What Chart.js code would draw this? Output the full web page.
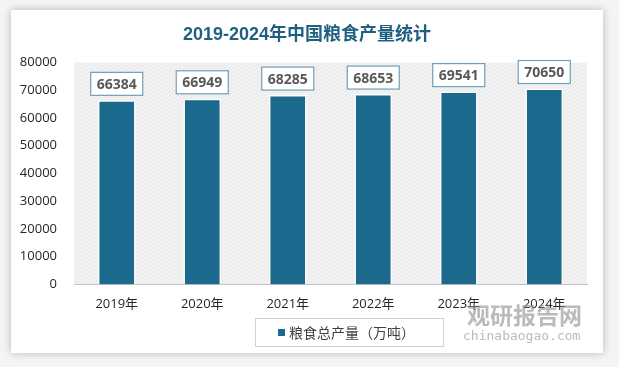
<!DOCTYPE html>
<html>
<head>
<meta charset="utf-8">
<script src="https://cdn.jsdelivr.net/npm/chart.js@4.4.0/dist/chart.umd.min.js"></script>
<style>
  html, body { margin: 0; padding: 0; background: #f4f4f4; }
  #card {
    position: absolute; left: 11px; top: 10px; width: 592px; height: 343px;
    background: #ffffff; box-shadow: 0 0 8px rgba(0,0,0,0.25);
  }
  canvas { display: block; }
</style>
</head>
<body>
<div id="card"><canvas id="grainChart" width="592" height="343"></canvas></div>
<script>
const years = ['2019年', '2020年', '2021年', '2022年', '2023年', '2024年'];
const grainOutput = [66384, 66949, 68285, 68653, 69541, 70650];
const yTicks = [0, 10000, 20000, 30000, 40000, 50000, 60000, 70000, 80000];

// hatched light-gray plot background
function makeHatch() {
  const c = document.createElement('canvas');
  c.width = 4; c.height = 4;
  const x = c.getContext('2d');
  x.fillStyle = '#f3f3f3';
  x.fillRect(0, 0, 4, 4);
  x.strokeStyle = '#e4e4e4';
  x.lineWidth = 1;
  x.beginPath();
  x.moveTo(0, 4); x.lineTo(4, 0);
  x.stroke();
  return c;
}

const plotBackground = {
  id: 'plotBackground',
  beforeDatasetsDraw(chart) {
    const { ctx, chartArea } = chart;
    ctx.save();
    ctx.fillStyle = ctx.createPattern(makeHatch(), 'repeat');
    ctx.fillRect(chartArea.left, chartArea.top, chartArea.right - chartArea.left, chartArea.bottom - chartArea.top);
    ctx.restore();
  }
};

// value boxes above each bar
const valueBoxes = {
  id: 'valueBoxes',
  afterDatasetsDraw(chart) {
    const { ctx } = chart;
    const meta = chart.getDatasetMeta(0);
    ctx.save();
    ctx.font = 'bold 14px "Open Sans", "Noto Sans", sans-serif';
    ctx.textAlign = 'center';
    ctx.textBaseline = 'middle';
    meta.data.forEach((bar, i) => {
      const text = String(grainOutput[i]);
      const w = ctx.measureText(text).width + 12;
      const h = 23;
      const cx = bar.x;
      const bottom = bar.y - 5;
      ctx.fillStyle = '#ffffff';
      ctx.fillRect(cx - w / 2, bottom - h, w, h);
      ctx.strokeStyle = '#6f9fb9';
      ctx.lineWidth = 1.2;
      ctx.strokeRect(cx - w / 2, bottom - h, w, h);
      ctx.fillStyle = '#595959';
      ctx.fillText(text, cx, bottom - h / 2 + 1);
    });
    ctx.restore();
  }
};

// framed legend under the axis + watermark text
const legendBox = {
  id: 'legendBox',
  afterDraw(chart) {
    const { ctx } = chart;
    const ds = chart.data.datasets[0];
    ctx.save();
    ctx.strokeStyle = '#d0d0d0';
    ctx.lineWidth = 1;
    ctx.strokeRect(244.5, 308.5, 188, 28);
    ctx.fillStyle = ds.backgroundColor;
    ctx.fillRect(267, 319, 7, 7);
    ctx.fillStyle = '#404040';
    ctx.font = '14px "Noto Sans CJK SC", sans-serif';
    ctx.textBaseline = 'middle';
    ctx.fillText(ds.label, 278, 323);

    ctx.fillStyle = 'rgba(140,140,140,0.6)';
    ctx.font = 'bold 23px "Noto Sans CJK SC", sans-serif';
    ctx.fillText('观研报告网', 456, 305);
    ctx.font = '13px "DejaVu Sans Mono", monospace';
    ctx.fillText('chinabaogao.com', 452, 327);
    ctx.restore();
  }
};

new Chart(document.getElementById('grainChart').getContext('2d'), {
  type: 'bar',
  data: {
    labels: years,
    datasets: [{
      label: '粮食总产量（万吨）',
      data: grainOutput,
      backgroundColor: '#1b6a8e',
      borderColor: '#ffffff',
      borderWidth: 1.5,
      borderSkipped: 'bottom',
      barPercentage: 0.44,
      categoryPercentage: 1
    }]
  },
  options: {
    responsive: false,
    animation: false,
    layout: { padding: { left: 0, right: 0, top: 4, bottom: 29 } },
    plugins: {
      title: {
        display: true,
        text: '2019-2024年中国粮食产量统计',
        color: '#1f5f7f',
        font: { size: 18, weight: 'bold', family: '"Liberation Sans", "Noto Sans CJK SC", sans-serif' },
        padding: { top: 10, bottom: 17 }
      },
      legend: { display: false },
      tooltip: { enabled: false }
    },
    scales: {
      x: {
        grid: { display: false, drawTicks: false },
        border: { display: true, color: '#a6a6a6', width: 1 },
        ticks: {
          color: '#262626',
          padding: 12,
          font: { size: 13, family: '"Open Sans", "Noto Sans CJK SC", sans-serif' }
        }
      },
      y: {
        min: 0,
        max: 80000,
        afterBuildTicks(scale) { scale.ticks = yTicks.map(v => ({ value: v })); },
        afterFit(scale) { scale.width = 63; },
        grid: { display: false, drawTicks: false },
        border: { display: false },
        ticks: {
          color: '#262626',
          padding: 17,
          callback: v => String(v),
          font: { size: 13, family: '"Open Sans", "Noto Sans", sans-serif' }
        }
      },
      // empty right-hand spacer so the title stays centred on the card
      spacer: {
        position: 'right',
        afterFit(scale) { scale.width = 16; },
        grid: { display: false, drawTicks: false },
        border: { display: false },
        ticks: { display: false }
      }
    }
  },
  plugins: [plotBackground, valueBoxes, legendBox]
});
</script>
</body>
</html>
